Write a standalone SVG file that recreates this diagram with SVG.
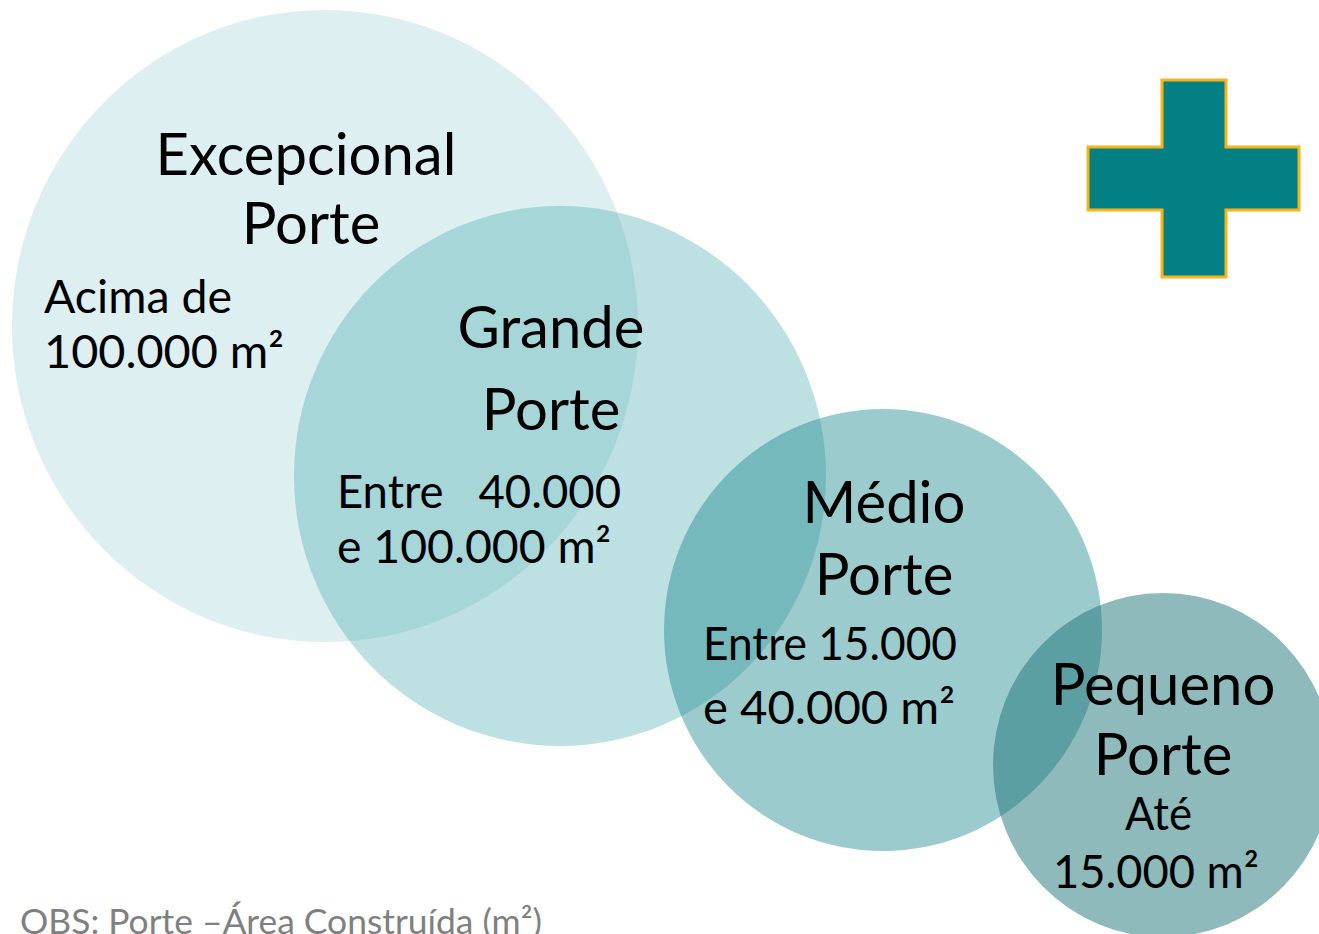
<svg xmlns="http://www.w3.org/2000/svg" width="1319" height="934" viewBox="0 0 1319 934">
<style>
.t{font-family:Lato,"Open Sans",sans-serif;fill:#000;}
.h{font-size:58px;}
.s{font-size:46px;}
.obs{font-family:Lato,"Open Sans",sans-serif;font-size:34px;fill:#808080;}
</style>
<rect width="1319" height="934" fill="#fff"/>
<g id="excepcional">
<ellipse cx="325" cy="326" rx="313" ry="316" fill="rgb(75,172,176)" fill-opacity="0.19"/>
</g>
<g id="grande">
<ellipse cx="560" cy="476" rx="266" ry="270" fill="rgb(75,172,176)" fill-opacity="0.37"/>
</g>
<g id="medio">
<ellipse cx="883" cy="630" rx="219" ry="221" fill="rgb(20,130,135)" fill-opacity="0.42"/>
</g>
<g id="pequeno">
<ellipse cx="1163" cy="765" rx="170" ry="172" fill="rgb(24,115,118)" fill-opacity="0.49"/>
</g>
<g id="labels">
<text class="t h" x="306" y="175" text-anchor="middle">Excepcional</text>
<text class="t h" x="311" y="244" text-anchor="middle">Porte</text>
<text class="t s" x="44" y="313" textLength="188" lengthAdjust="spacingAndGlyphs">Acima de</text>
<text class="t s" x="44" y="368" textLength="240" lengthAdjust="spacingAndGlyphs">100.000 m²</text>
<text class="t h" x="551" y="348" text-anchor="middle">Grande</text>
<text class="t h" x="551" y="430" text-anchor="middle">Porte</text>
<text class="t s" x="337" y="508" xml:space="preserve" textLength="284" lengthAdjust="spacingAndGlyphs">Entre   40.000</text>
<text class="t s" x="337" y="563" textLength="274" lengthAdjust="spacingAndGlyphs">e 100.000 m²</text>
<text class="t h" x="884" y="523" text-anchor="middle">Médio</text>
<text class="t h" x="884" y="595" text-anchor="middle">Porte</text>
<text class="t s" x="703" y="660" textLength="254" lengthAdjust="spacingAndGlyphs">Entre 15.000</text>
<text class="t s" x="703" y="724" textLength="252" lengthAdjust="spacingAndGlyphs">e 40.000 m²</text>
<text class="t h" x="1163" y="705" text-anchor="middle">Pequeno</text>
<text class="t h" x="1163" y="775" text-anchor="middle">Porte</text>
<text class="t s" x="1125" y="830" textLength="67" lengthAdjust="spacingAndGlyphs">Até</text>
<text class="t s" x="1053" y="888" textLength="206" lengthAdjust="spacingAndGlyphs">15.000 m²</text>
</g>
<g id="plus">
<path d="M1162,80 H1226 V147 H1299 V210 H1226 V277 H1162 V210 H1088 V147 H1162 Z" fill="#028084" stroke="#f5b51a" stroke-width="3"/>
</g>
<text class="obs" x="20" y="934" textLength="522" lengthAdjust="spacingAndGlyphs">OBS: Porte –Área Construída (m²)</text>
</svg>
